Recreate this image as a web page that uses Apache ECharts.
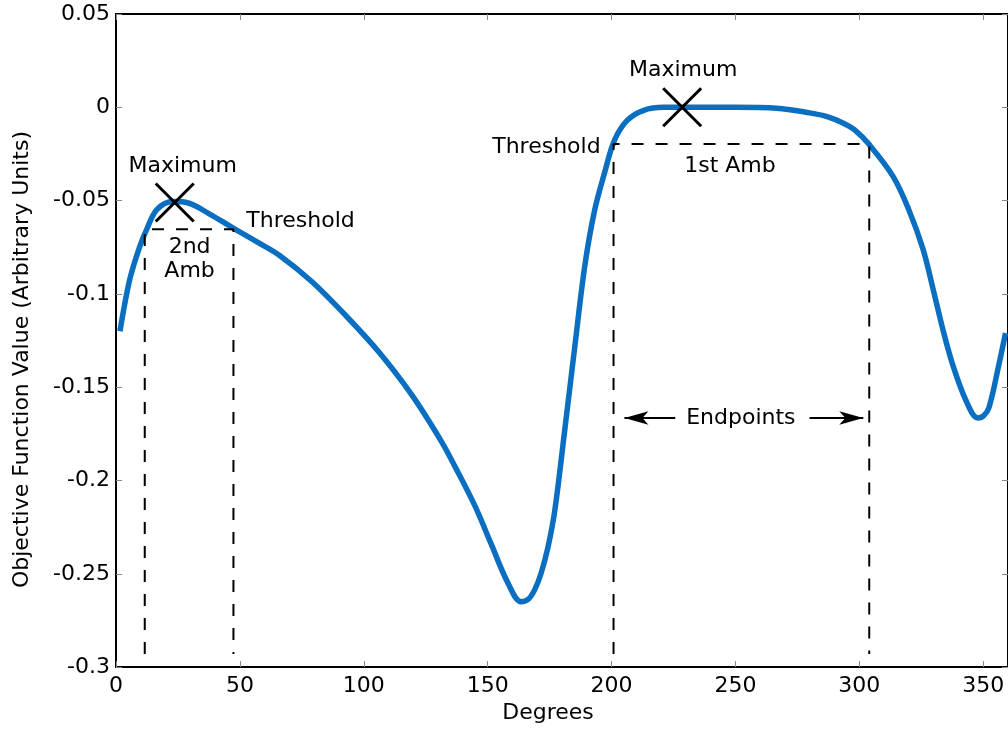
<!DOCTYPE html>
<html>
<head>
<meta charset="utf-8">
<title>Objective function vs degrees</title>
<script src="https://cdn.jsdelivr.net/npm/echarts@6/dist/echarts.min.js"></script>
<style>
  html, body { margin: 0; padding: 0; background: #fff; }
  #chart { width: 1008px; height: 729px; }
</style>
</head>
<body>
<div id="chart"></div>
<script>
// curve
const degrees = [1.6, 5.6, 9.6, 12.4, 16.5, 23, 28.5, 37.8, 47, 57.8, 65.9, 79.1, 92.8, 106,
  119.3, 131.3, 137, 145, 151.4, 158.2, 163.5, 166.5, 169, 171.5, 174.3, 177.1, 181.1, 185.1,
  189.2, 193.2, 197.2, 201.2, 206.4, 213, 221, 228, 250, 266.7, 280, 287, 293.6, 298, 304,
  313.6, 320, 325.7, 329.7, 333.7, 337.7, 343, 347.8, 350, 352.3, 356.3, 359];
const objective = [-0.120, -0.092, -0.0745, -0.0654, -0.0548, -0.0505, -0.051, -0.0572, -0.0645,
  -0.0728, -0.0793, -0.0935, -0.1117, -0.131, -0.154, -0.179, -0.193, -0.214, -0.234, -0.255,
  -0.265, -0.2635, -0.2585, -0.250, -0.236, -0.216, -0.173, -0.129, -0.085, -0.055, -0.035,
  -0.0176, -0.0069, -0.0016, 0, 0, 0, -0.0005, -0.003, -0.005, -0.0085, -0.012, -0.020, -0.037,
  -0.055, -0.076, -0.097, -0.119, -0.138, -0.157, -0.1665, -0.1655, -0.161, -0.138, -0.121];

// maxima markers [deg, value]
const maxima = [[23.7, -0.051], [228.5, 0]];

// ambiguity regions: [left deg, right deg, threshold]
const ambiguity = [[11.6, 47.4, -0.0654], [200.8, 304, -0.0197]];
const dropBottom = -0.293;

// endpoints arrows: [tail deg, tip deg, value]
const arrows = [[225.7, 205.2, -0.1665], [279.9, 301.6, -0.1665]];

// annotation texts: [deg, value, text, align]
const notes = [
  [26.9, -0.0314, 'Maximum', 'center'],
  [29.7, -0.0814, '2nd\nAmb', 'center'],
  [52.6, -0.0612, 'Threshold', 'left'],
  [195.6, -0.0213, 'Threshold', 'right'],
  [247.8, -0.0314, '1st Amb', 'center'],
  [228.9, 0.0197, 'Maximum', 'center'],
  [252.2, -0.1665, 'Endpoints', 'center']
];

const xTicks = { min: 0, max: 360, interval: 50 };
const yTicks = { min: -0.3, max: 0.05, interval: 0.05 };

const font = 'DejaVu Sans, sans-serif';

const dashedSeries = ambiguity.map(function (a) {
  return {
    type: 'line',
    data: [[a[0], dropBottom], [a[0], a[2]], [a[1], a[2]], [a[1], dropBottom]],
    symbol: 'none',
    lineStyle: { color: '#000', width: 2, type: [12, 12] },
    z: 3,
    silent: true
  };
});

const chart = echarts.init(document.getElementById('chart'));
chart.setOption({
  animation: false,
  backgroundColor: '#fff',
  textStyle: { fontFamily: font },
  grid: { left: 116, right: -4, top: 14, bottom: 60 },
  xAxis: [{
    type: 'value',
    min: xTicks.min, max: xTicks.max, interval: xTicks.interval,
    name: 'Degrees', nameLocation: 'middle', nameGap: 34,
    nameTextStyle: { color: '#000', fontSize: 22, fontFamily: font, padding: [0, 28, 0, 0] },
    axisLine: { onZero: false, lineStyle: { color: '#000', width: 2 } },
    axisTick: { inside: true, length: 6, lineStyle: { color: '#888' } },
    axisLabel: { color: '#000', fontSize: 22, fontFamily: font, margin: 8, showMaxLabel: false },
    splitLine: { show: false }
  }, {
    type: 'value', position: 'top',
    min: xTicks.min, max: xTicks.max, interval: xTicks.interval,
    axisLine: { onZero: false, lineStyle: { color: '#000', width: 2 } },
    axisTick: { inside: true, length: 6, lineStyle: { color: '#888' } },
    axisLabel: { show: false },
    splitLine: { show: false }
  }],
  yAxis: [{
    type: 'value',
    min: yTicks.min, max: yTicks.max, interval: yTicks.interval,
    name: 'Objective Function Value (Arbitrary Units)', nameLocation: 'middle', nameGap: 83,
    nameTextStyle: { color: '#000', fontSize: 22, fontFamily: font, padding: [0, 38, 0, 0] },
    axisLine: { onZero: false, lineStyle: { color: '#000', width: 2 } },
    axisTick: { inside: true, length: 6, lineStyle: { color: '#888' } },
    axisLabel: {
      color: '#000', fontSize: 22, fontFamily: font, margin: 6,
      formatter: function (v) { return String(+v.toFixed(2)); }
    },
    splitLine: { show: false }
  }, {
    type: 'value', position: 'right',
    min: yTicks.min, max: yTicks.max, interval: yTicks.interval,
    axisLine: { onZero: false, lineStyle: { color: '#000', width: 2 } },
    axisTick: { inside: true, length: 6, lineStyle: { color: '#888' } },
    axisLabel: { show: false },
    splitLine: { show: false }
  }],
  series: [{
    name: 'objective',
    type: 'line',
    data: degrees.map(function (d, i) { return [d, objective[i]]; }),
    smooth: 0.35,
    symbol: 'none',
    lineStyle: { color: '#0a6fc0', width: 5.5 },
    z: 2
  }].concat(dashedSeries, [{
    type: 'scatter',
    data: maxima,
    symbol: 'path://M0,0L10,10M10,0L0,10',
    symbolSize: 38,
    itemStyle: { color: 'none', borderColor: '#000', borderWidth: 3, opacity: 1 },
    z: 5,
    silent: true
  }, {
    type: 'line',
    data: [],
    silent: true,
    markLine: {
      silent: true,
      animation: false,
      label: { show: false },
      lineStyle: { color: '#000', width: 2, type: 'solid' },
      data: arrows.map(function (a) {
        return [
          { coord: [a[0], a[2]], symbol: 'none' },
          { coord: [a[1], a[2]], symbol: 'arrow', symbolSize: [10, 24] }
        ];
      })
    }
  }, {
    type: 'scatter',
    data: notes.map(function (n) {
      return {
        value: [n[0], n[1]],
        label: { formatter: n[2], align: n[3] }
      };
    }),
    symbolSize: 0,
    silent: true,
    itemStyle: { opacity: 1 },
    label: {
      show: true, position: 'inside', color: '#000',
      fontSize: 22, fontFamily: font, lineHeight: 24
    },
    z: 6
  }])
});
</script>
</body>
</html>
